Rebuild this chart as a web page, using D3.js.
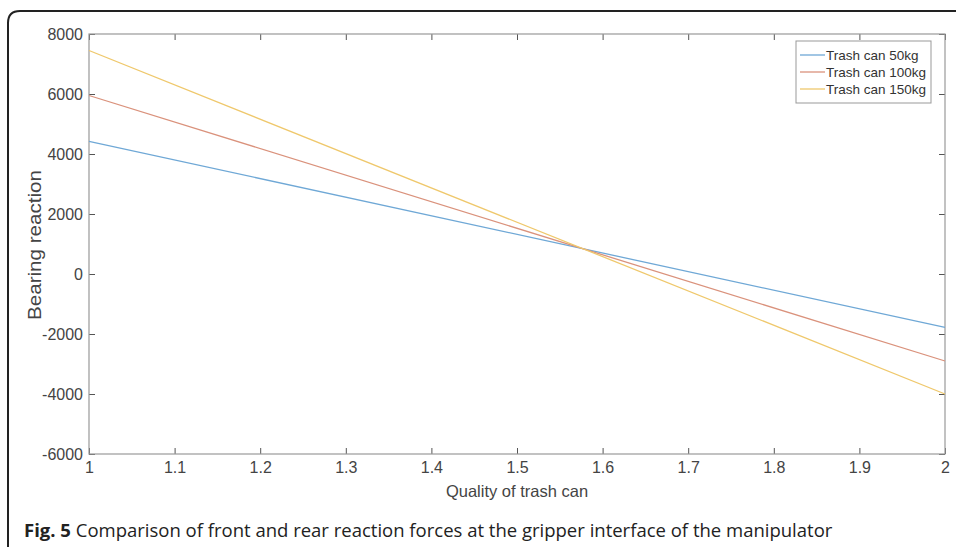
<!DOCTYPE html>
<head>
    <meta charset="utf-8">
    <script src="https://d3js.org/d3.v7.min.js"></script>
    <style>
        html, body { padding: 0; margin: 0; background: #fff; }
        svg { display: block; }
    </style>
</head>
<body>
<svg width="956" height="547"></svg>
<script>
    // values (line end points)
    var xValues = [1, 2];
    var series50 = [4420, -1780];
    var series100 = [5950, -2900];
    var series150 = [7450, -4000];
    var seriesNames = ["Trash can 50kg", "Trash can 100kg", "Trash can 150kg"];
    var seriesColors = ["#6fa8d6", "#da927c", "#efc86c"];
    var xTicks = [1, 1.1, 1.2, 1.3, 1.4, 1.5, 1.6, 1.7, 1.8, 1.9, 2];
    var yTicks = [-6000, -4000, -2000, 0, 2000, 4000, 6000, 8000];

    var margin = {top: 34, right: 11, bottom: 93, left: 89};
    var width = 956 - margin.left - margin.right;
    var height = 547 - margin.top - margin.bottom;
    var tickFont = "'Liberation Sans', Arial, sans-serif";

    var svg = d3.select("svg");

    // outer figure frame (rounded top-left corner, open right/bottom)
    svg.append("path")
        .attr("d", "M8,547 L8,23 Q8,11 20,11 L956,11")
        .attr("fill", "none")
        .attr("stroke", "#222")
        .attr("stroke-width", 2);

    var g = svg.append("g")
        .attr("transform", "translate(" + margin.left + "," + margin.top + ")");

    var x = d3.scaleLinear().domain([1, 2]).range([0, width]);
    var y = d3.scaleLinear().domain([-6000, 8000]).range([height, 0]);

    function styleAxis(a) {
        a.select(".domain").remove();
        a.selectAll("line").attr("stroke", "#555");
        a.selectAll("text")
            .style("font-size", "16px")
            .style("font-family", tickFont)
            .attr("fill", "#444");
    }

    g.append("g")
        .attr("transform", "translate(0," + height + ")")
        .call(d3.axisBottom(x).tickValues(xTicks).tickFormat(function(d) { return String(+d.toFixed(1)); }).tickSize(-6).tickPadding(8))
        .call(styleAxis);

    g.append("g")
        .call(d3.axisTop(x).tickValues(xTicks).tickFormat("").tickSize(-6))
        .call(styleAxis);

    g.append("g")
        .call(d3.axisLeft(y).tickValues(yTicks).tickFormat(function(d) { return String(d); }).tickSize(-6).tickPadding(6))
        .call(styleAxis);

    g.append("g")
        .attr("transform", "translate(" + width + ",0)")
        .call(d3.axisRight(y).tickValues(yTicks).tickFormat("").tickSize(-6))
        .call(styleAxis);

    g.append("rect")
        .attr("width", width)
        .attr("height", height)
        .attr("fill", "none")
        .attr("stroke", "#999")
        .attr("stroke-width", 1.2);

    var data = [series50, series100, series150].map(function(vals, i) {
        return {
            id: seriesNames[i],
            color: seriesColors[i],
            values: vals.map(function(v, j) { return {q: xValues[j], r: v}; })
        };
    });

    var line = d3.line()
        .x(function(d) { return x(d.q); })
        .y(function(d) { return y(d.r); });

    g.selectAll(".series")
        .data(data)
        .enter()
        .append("path")
        .attr("class", "series")
        .attr("fill", "none")
        .attr("stroke-width", 1.3)
        .attr("stroke", function(d) { return d.color; })
        .attr("d", function(d) { return line(d.values); });

    // legend
    var legend = svg.append("g").attr("transform", "translate(796,41)");
    legend.append("rect")
        .attr("width", 135)
        .attr("height", 62)
        .attr("fill", "#fff")
        .attr("stroke", "#999");
    var item = legend.selectAll(".item")
        .data(data)
        .enter()
        .append("g")
        .attr("transform", function(d, i) { return "translate(0," + (14 + i * 17) + ")"; });
    item.append("line")
        .attr("x1", 4).attr("x2", 29)
        .attr("stroke", function(d) { return d.color; })
        .attr("stroke-width", 1.3);
    item.append("text")
        .attr("x", 30)
        .attr("dy", "0.35em")
        .style("font", "13.5px " + tickFont)
        .attr("fill", "#333")
        .text(function(d) { return d.id; });

    // axis labels
    svg.append("text")
        .attr("x", margin.left + width / 2)
        .attr("y", 497)
        .attr("text-anchor", "middle")
        .style("font", "16.5px " + tickFont)
        .attr("fill", "#444")
        .text("Quality of trash can");

    svg.append("text")
        .attr("transform", "translate(41,245) rotate(-90)")
        .attr("text-anchor", "middle")
        .attr("textLength", 150)
        .attr("lengthAdjust", "spacingAndGlyphs")
        .style("font", "17.5px " + tickFont)
        .attr("fill", "#444")
        .text("Bearing reaction");

    // caption
    var cap = svg.append("text")
        .attr("x", 24)
        .attr("y", 537)
        .style("font", "18.5px 'Open Sans', sans-serif")
        .attr("fill", "#222");
    cap.append("tspan").attr("font-weight", "bold").text("Fig. 5");
    cap.append("tspan").text(" Comparison of front and rear reaction forces at the gripper interface of the manipulator");
</script>
</body>
